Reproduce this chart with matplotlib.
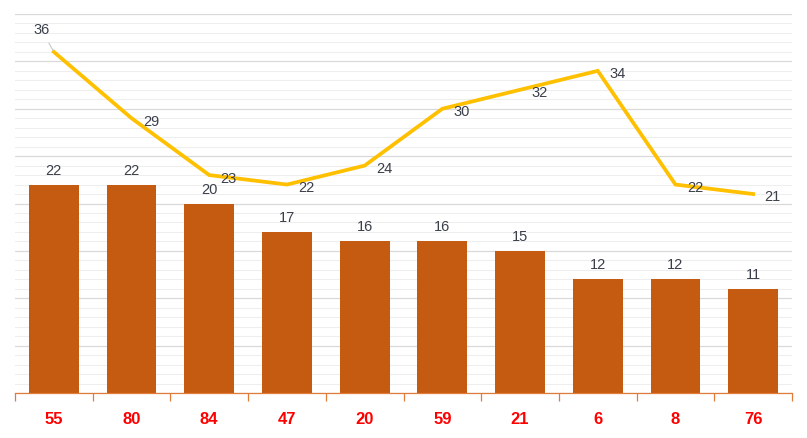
import numpy as np
import matplotlib
matplotlib.use('Agg')
import matplotlib.pyplot as plt
from matplotlib.ticker import MultipleLocator

# Chart data
categories = ['55', '80', '84', '47', '20', '59', '21', '6', '8', '76']
bar_values = [22, 22, 20, 17, 16, 16, 15, 12, 12, 11]
line_values = [36, 29, 23, 22, 24, 30, 32, 34, 22, 21]

bar_color = '#C55A11'
line_color = '#FFC000'
label_color = '#3B3F4A'

plt.rcParams['font.family'] = ['Liberation Sans', 'DejaVu Sans']

fig = plt.figure(figsize=(8.07, 4.38), dpi=100)
ax = fig.add_axes([15 / 807, 45 / 438, 777 / 807, 379 / 438])

x = np.arange(len(categories))
ax.bar(x, bar_values, width=0.64, color=bar_color, zorder=2)
ax.plot(x, line_values, color=line_color, linewidth=2.7, zorder=3,
        solid_joinstyle='miter')

for xi, v in zip(x, bar_values):
    ax.annotate(str(v), (xi, v), xytext=(0, 5), textcoords='offset points',
                ha='center', va='bottom', fontsize=10.5, color=label_color,
                zorder=4)

for i, (xi, v) in enumerate(zip(x, line_values)):
    if i == 0:
        # first label sits above-left with a thin leader line
        ax.annotate(str(v), (xi, v), xytext=(-9, 16), textcoords='offset points',
                    ha='center', va='center', fontsize=10.5, color=label_color,
                    arrowprops=dict(arrowstyle='-', color='#BFBFBF', lw=0.7,
                                    shrinkA=3, shrinkB=1),
                    zorder=4)
    else:
        ax.annotate(str(v), (xi, v), xytext=(14, -2.5), textcoords='offset points',
                    ha='center', va='center', fontsize=10.5, color=label_color,
                    zorder=4)

ax.set_xlim(-0.5, len(categories) - 0.5)
ax.set_ylim(0, 40)

# gridlines: major every 5, minor every 1
ax.yaxis.set_major_locator(MultipleLocator(5))
ax.yaxis.set_minor_locator(MultipleLocator(1))
ax.grid(axis='y', which='major', color='#D9D9D9', linewidth=0.9, zorder=0)
ax.grid(axis='y', which='minor', color='#EEEEEE', linewidth=0.8, zorder=0)
ax.set_axisbelow(True)
ax.tick_params(axis='y', which='both', left=False, labelleft=False)

# category axis: ticks at boundaries, labels centered
ax.set_xticks(np.arange(-0.5, len(categories) + 0.5, 1))
ax.set_xticklabels([])
ax.tick_params(axis='x', which='major', direction='out', length=6,
               color='#E07B39', width=0.9)
ax.set_xticks(x, minor=True)
ax.set_xticklabels(categories, minor=True, color='#FF0000', fontsize=12,
                   fontweight='bold')
ax.tick_params(axis='x', which='minor', length=0, pad=14)

for side in ['top', 'right', 'left']:
    ax.spines[side].set_visible(False)
ax.spines['bottom'].set_color('#E07B39')
ax.spines['bottom'].set_linewidth(0.9)

fig.savefig('out.png', dpi=100)
